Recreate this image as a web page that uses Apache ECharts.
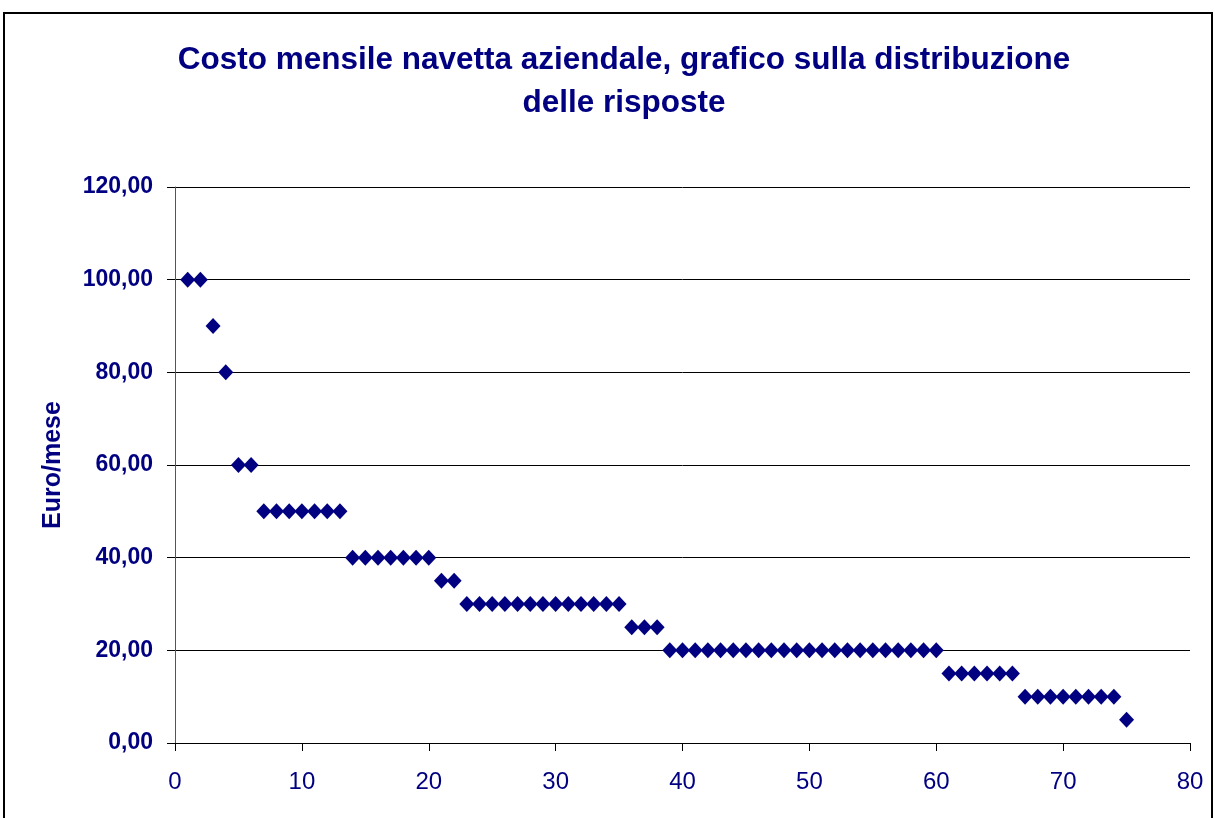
<!DOCTYPE html>
<html>
<head>
<meta charset="utf-8">
<script src="https://cdn.jsdelivr.net/npm/echarts@6/dist/echarts.min.js"></script>
<style>
  html, body { margin: 0; padding: 0; background: #fff; }
  #chart { width: 1215px; height: 818px; }
</style>
</head>
<body>
<div id="chart"></div>
<script>
    // numero della risposta (asse x)
    var respondents = [];
    for (var i = 1; i <= 75; i++) { respondents.push(i); }

    // Euro/mese per ciascuna risposta, ordinati
    var costs = [
        100, 100, 90, 80, 60, 60,
        50, 50, 50, 50, 50, 50, 50,
        40, 40, 40, 40, 40, 40, 40,
        35, 35,
        30, 30, 30, 30, 30, 30, 30, 30, 30, 30, 30, 30, 30,
        25, 25, 25,
        20, 20, 20, 20, 20, 20, 20, 20, 20, 20, 20, 20, 20, 20, 20, 20, 20, 20, 20, 20, 20, 20,
        15, 15, 15, 15, 15, 15,
        10, 10, 10, 10, 10, 10, 10, 10,
        5
    ];

    var navy = '#000080';
    var font = 'Liberation Sans, Arial, sans-serif';
    var points = respondents.map(function (x, i) { return [x, costs[i]]; });

    var myChart = echarts.init(document.getElementById('chart')),
        option = {
            animation: false,
            backgroundColor: '#fff',
            title: {
                text: 'Costo mensile navetta aziendale, grafico sulla distribuzione\ndelle risposte',
                left: 619,
                top: 34,
                textAlign: 'center',
                textStyle: {
                    fontFamily: font,
                    fontSize: 31.5,
                    fontWeight: 'bold',
                    color: navy,
                    lineHeight: 43
                }
            },
            graphic: [{
                type: 'rect',
                shape: { x: 4, y: 13, width: 1208, height: 900 },
                style: { fill: 'none', stroke: '#000', lineWidth: 2 },
                silent: true
            }],
            grid: {
                left: 175,
                right: 25,
                top: 187,
                bottom: 75
            },
            xAxis: {
                type: 'value',
                min: 0,
                max: 80,
                interval: 10,
                axisLine: { show: true, onZero: false, lineStyle: { color: '#000', width: 1 } },
                axisTick: { show: true, length: 8, lineStyle: { color: '#000' } },
                splitLine: { show: false },
                axisLabel: {
                    margin: 27,
                    fontFamily: font,
                    fontSize: 24,
                    color: navy
                }
            },
            yAxis: {
                type: 'value',
                min: 0,
                max: 120,
                interval: 20,
                name: 'Euro/mese',
                nameLocation: 'middle',
                nameGap: 109,
                nameTextStyle: {
                    fontFamily: font,
                    fontSize: 25,
                    fontWeight: 'bold',
                    color: navy
                },
                axisLine: { show: true, lineStyle: { color: '#555', width: 1 } },
                axisTick: { show: true, length: 8, lineStyle: { color: '#000' } },
                splitLine: { show: true, lineStyle: { color: '#000', width: 1 } },
                axisLabel: {
                    margin: 22,
                    fontFamily: font,
                    fontSize: 23,
                    fontWeight: 'bold',
                    color: navy,
                    formatter: function (v) { return v.toFixed(2).replace('.', ','); }
                }
            },
            series: [{
                type: 'scatter',
                symbol: 'diamond',
                symbolSize: [15, 16],
                itemStyle: { color: navy, opacity: 1 },
                data: points
            }]
        };

    myChart.setOption(option);
</script>
</body>
</html>
